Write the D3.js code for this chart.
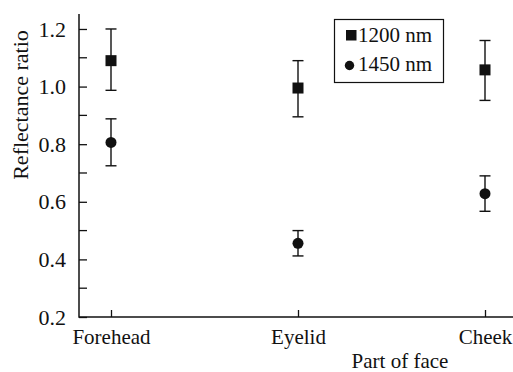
<!DOCTYPE html>
<html>
<head>
<meta charset="utf-8">
<script src="https://cdn.jsdelivr.net/npm/d3@7"></script>
<style>
  body { margin: 0; background: #fff; }
</style>
</head>
<body>
<svg id="chart" width="513" height="372"></svg>
<script>
// categories along the x axis
const parts = ['Forehead', 'Eyelid', 'Cheek'];

// 1200 nm series: mean, lower, upper
const mean1200 = [1.09, 0.995, 1.058];
const low1200 = [0.987, 0.895, 0.952];
const high1200 = [1.2, 1.09, 1.16];

// 1450 nm series
const mean1450 = [0.806, 0.456, 0.628];
const low1450 = [0.725, 0.412, 0.567];
const high1450 = [0.888, 0.5, 0.69];

const yTicks = [0.2, 0.4, 0.6, 0.8, 1.0, 1.2];
const yMinor = [0.3, 0.5, 0.7, 0.9, 1.1];

const svg = d3.select('#chart');
const plotLeft = 79, plotTop = 14, plotBottom = 317, plotRight = 513;
const font = '"Liberation Serif", "Times New Roman", serif';
const ink = '#111';

const x = d3.scalePoint().domain(parts).range([111, 485]);
const y = d3.scaleLinear().domain([0.2, 1.252]).range([plotBottom, plotTop]);

function styleText(sel, size) {
  sel.style('font-family', font).style('font-size', (size || 22) + 'px').attr('fill', ink);
}

/// y axis, ticks pointing inward
const yAxis = svg.append('g').attr('transform', `translate(${plotLeft},0)`)
  .call(d3.axisLeft(y).tickValues(yTicks).tickSize(-8).tickPadding(13)
    .tickFormat(d3.format('.1f')));
yAxis.select('.domain').remove();
styleText(yAxis.selectAll('text'));
yAxis.selectAll('line').attr('stroke', ink).attr('stroke-width', 1.3);
svg.append('g').selectAll('line').data(yMinor).enter().append('line')
  .attr('x1', plotLeft).attr('x2', plotLeft + 8)
  .attr('y1', d => y(d)).attr('y2', d => y(d))
  .attr('stroke', ink).attr('stroke-width', 1.3);
svg.append('line').attr('x1', plotLeft).attr('x2', plotLeft).attr('y1', plotTop).attr('y2', plotBottom + 0.7)
  .attr('stroke', ink).attr('stroke-width', 1.5);

/// x axis, ticks pointing up
const xAxis = svg.append('g').attr('transform', `translate(0,${plotBottom})`)
  .call(d3.axisBottom(x).tickSize(-7).tickPadding(12));
xAxis.select('.domain').remove();
styleText(xAxis.selectAll('text'), 21);
xAxis.selectAll('line').attr('stroke', ink).attr('stroke-width', 1.3);
svg.append('line').attr('x1', plotLeft).attr('x2', plotRight).attr('y1', plotBottom).attr('y2', plotBottom)
  .attr('stroke', ink).attr('stroke-width', 1.5);

/// axis titles
svg.append('text').attr('transform', 'translate(28,105) rotate(-90)')
  .attr('text-anchor', 'middle').text('Reflectance ratio').call(styleText);
svg.append('text').attr('x', 400).attr('y', 368)
  .attr('text-anchor', 'middle').text('Part of face').call(styleText, 21);

/// error bars and markers
function series(mean, low, high, shape) {
  const g = svg.append('g');
  const rows = parts.map((p, i) => ({p: p, m: mean[i], lo: low[i], hi: high[i]}));
  const cap = 5.5;
  rows.forEach(function(d) {
    const cx = x(d.p);
    g.append('line').attr('x1', cx).attr('x2', cx).attr('y1', y(d.lo)).attr('y2', y(d.hi))
      .attr('stroke', ink).attr('stroke-width', 1.4);
    [d.lo, d.hi].forEach(function(v) {
      g.append('line').attr('x1', cx - cap).attr('x2', cx + cap).attr('y1', y(v)).attr('y2', y(v))
        .attr('stroke', ink).attr('stroke-width', 1.4);
    });
    if (shape === 'square') {
      g.append('rect').attr('x', cx - 5.5).attr('y', y(d.m) - 5.5).attr('width', 11).attr('height', 11)
        .attr('fill', ink);
    } else {
      g.append('circle').attr('cx', cx).attr('cy', y(d.m)).attr('r', 5.5).attr('fill', ink);
    }
  });
}
series(mean1200, low1200, high1200, 'square');
series(mean1450, low1450, high1450, 'circle');

/// legend
const lg = svg.append('g');
lg.append('rect').attr('x', 334.5).attr('y', 19.5).attr('width', 109).attr('height', 63)
  .attr('fill', '#fff').attr('stroke', ink).attr('stroke-width', 1.2);
lg.append('rect').attr('x', 346).attr('y', 30).attr('width', 10.5).attr('height', 10.5).attr('fill', ink);
lg.append('circle').attr('cx', 349.5).attr('cy', 65.5).attr('r', 4.7).attr('fill', ink);
lg.append('text').attr('x', 358).attr('y', 42).text('1200 nm').call(styleText, 21);
lg.append('text').attr('x', 358).attr('y', 71).text('1450 nm').call(styleText, 21);
</script>
</body>
</html>
